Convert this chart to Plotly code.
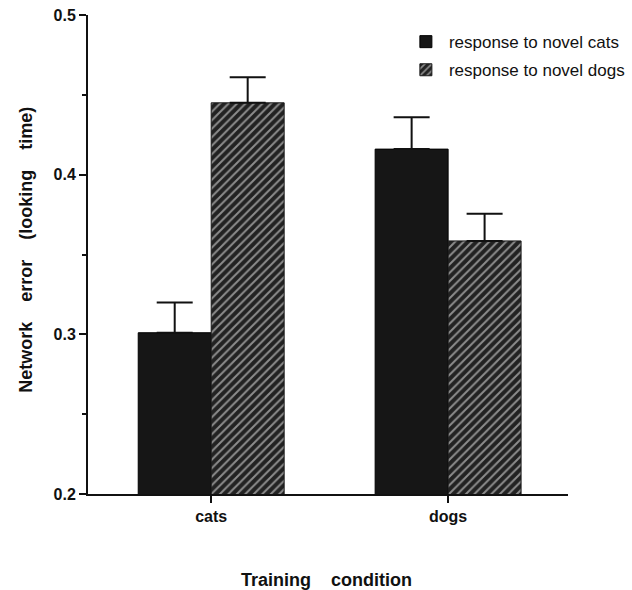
import plotly.graph_objects as go

categories = ["cats", "dogs"]
novel_cats = [0.301, 0.416]
novel_cats_err = [0.019, 0.020]
novel_dogs = [0.445, 0.3585]
novel_dogs_err = [0.016, 0.017]
y_ticks = [0.2, 0.3, 0.4, 0.5]
y_tick_labels = ["0.2", "0.3", "0.4", "0.5"]

FONT = "Liberation Sans, Arial, Helvetica, sans-serif"

fig = go.Figure()
fig.add_trace(go.Bar(
    x=categories, y=novel_cats, name="response to novel cats",
    legendgroup="a",
    marker=dict(color="#161616", line=dict(color="#000000", width=1)),
    error_y=dict(type="data", array=novel_cats_err, arrayminus=[0, 0],
                 symmetric=False, color="#111111", thickness=2, width=18),
))
fig.add_trace(go.Bar(
    x=categories, y=novel_dogs, name="response to novel dogs",
    legendgroup="b",
    marker=dict(color="#2a2a2a", line=dict(color="#1a1a1a", width=1),
                pattern=dict(shape="/", bgcolor="#222222", fgcolor="#f6f6f6",
                             size=6, solidity=0.33)),
    error_y=dict(type="data", array=novel_dogs_err, arrayminus=[0, 0],
                 symmetric=False, color="#111111", thickness=2, width=18),
))

fig.update_layout(
    width=632, height=590,
    margin=dict(l=88, r=64, t=15, b=96, autoexpand=False),
    paper_bgcolor="white", plot_bgcolor="white",
    barmode="group", bargap=0.384, bargroupgap=0,
    font=dict(family=FONT, color="#111111"),
    showlegend=True,
    legend=dict(x=0.656, y=0.981, xanchor="left", yanchor="top",
                font=dict(size=17, family=FONT, color="#111111"),
                traceorder="grouped", tracegroupgap=3, itemwidth=36,
                bgcolor="rgba(0,0,0,0)"),
    xaxis=dict(type="category", range=[-0.52, 1.506], showline=True,
               automargin=False,
               linecolor="#111111", linewidth=2, ticks="outside", ticklen=7,
               tickwidth=1.5, tickcolor="#111111", showgrid=False, zeroline=False,
               tickfont=dict(size=16, family=FONT, color="#111111", weight="bold")),
    yaxis=dict(range=[0.2, 0.5], tickvals=y_ticks, ticktext=y_tick_labels,
               automargin=False,
               showline=True, linecolor="#111111", linewidth=2, ticks="outside",
               ticklen=7, tickwidth=1.5, tickcolor="#111111", showgrid=False,
               zeroline=False,
               minor=dict(dtick=0.05, ticks="outside", ticklen=4, tickwidth=1.5,
                          tickcolor="#111111", showgrid=False),
               tickfont=dict(size=16, family=FONT, color="#111111", weight="bold")),
    annotations=[
        dict(text="Network\u00a0\u00a0\u00a0 error\u00a0\u00a0\u00a0 (looking\u00a0\u00a0\u00a0 time)",
             xref="paper", yref="paper", x=-0.129, y=0.51, xanchor="center",
             yanchor="middle", textangle=-90, showarrow=False,
             font=dict(size=18, family=FONT, color="#111111", weight="bold")),
        dict(text="Training\u00a0\u00a0\u00a0 condition",
             xref="paper", yref="paper", x=(326 - 88) / 480, y=-0.179,
             xanchor="center", yanchor="middle", showarrow=False,
             font=dict(size=18, family=FONT, color="#111111", weight="bold")),
    ],
)

fig.write_html("out.html")
